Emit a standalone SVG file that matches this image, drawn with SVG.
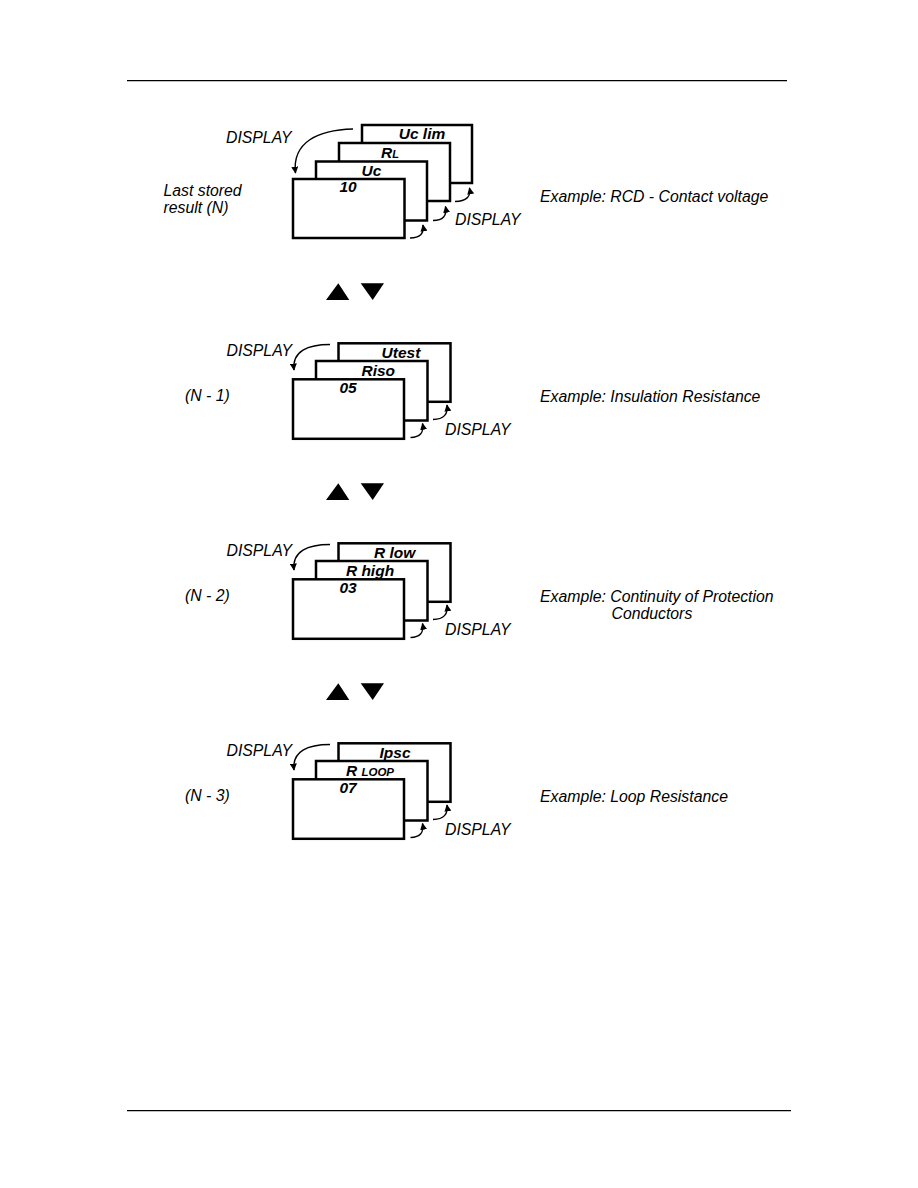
<svg xmlns="http://www.w3.org/2000/svg" width="918" height="1188" viewBox="0 0 918 1188">
<defs>
<style>
.t{font-family:"Liberation Sans",Arial,sans-serif;font-style:italic;font-size:15.8px;fill:#000}
.b{font-family:"Liberation Sans",Arial,sans-serif;font-style:italic;font-weight:bold;font-size:15.5px;fill:#000;text-anchor:middle}
.box{fill:#fff;stroke:#000;stroke-width:2.5}
.c{fill:none;stroke:#000;stroke-width:1.4}
.rule{stroke:#000;stroke-width:1.2}
</style>
<marker id="ah" viewBox="0 0 10 10" refX="9" refY="5" markerWidth="7" markerHeight="7" markerUnits="userSpaceOnUse" orient="auto">
<path d="M0,0 L10,5 L0,10 z" fill="#000"/>
</marker>
</defs>
<rect width="918" height="1188" fill="#fff"/>
<line class="rule" x1="127" y1="80.7" x2="787" y2="80.7"/>
<line class="rule" x1="127" y1="1110.7" x2="791" y2="1110.7"/>

<!-- Section 1 -->
<g id="s1-uclim"><rect class="box" x="362" y="125" width="110" height="58"/><text class="b" x="422" y="138.5">Uc lim</text></g>
<g id="s1-rl"><rect class="box" x="339" y="143" width="111" height="58"/><text class="b" x="390" y="157.5">R<tspan font-size="11">L</tspan></text></g>
<g id="s1-uc"><rect class="box" x="316" y="161.5" width="111" height="59"/><text class="b" x="371.5" y="175.5">Uc</text></g>
<g id="s1-front"><rect class="box" x="293" y="179" width="111.5" height="59"/><text class="b" x="348" y="192">10</text></g>
<g id="s1-labels">
<text class="t" x="226" y="143">DISPLAY</text>
<text class="t" x="163.5" y="195.5">Last stored</text>
<text class="t" x="163.5" y="212.5">result (N)</text>
<text class="t" x="455" y="225">DISPLAY</text>
<text class="t" x="540" y="201.5">Example: RCD - Contact voltage</text>
</g>

<!-- Section 2 -->
<g id="s2-utest"><rect class="box" x="338.5" y="343.3" width="112" height="58.5"/><text class="b" x="401" y="357.7">Utest</text></g>
<g id="s2-riso"><rect class="box" x="316" y="361" width="111.5" height="59.5"/><text class="b" x="378.3" y="375.7">Riso</text></g>
<g id="s2-front"><rect class="box" x="293" y="379.3" width="111" height="59.5"/><text class="b" x="348" y="393.3">05</text></g>
<g id="s2-labels">
<text class="t" x="226.5" y="356">DISPLAY</text>
<text class="t" x="185" y="401">(N - 1)</text>
<text class="t" x="445" y="435">DISPLAY</text>
<text class="t" x="540" y="401.5">Example: Insulation Resistance</text>
</g>

<!-- Section 3 -->
<g id="s3-rlow"><rect class="box" x="338.5" y="543.3" width="112" height="58.5"/><text class="b" x="394.7" y="557.7">R low</text></g>
<g id="s3-rhigh"><rect class="box" x="316" y="561" width="111.5" height="59.5"/><text class="b" x="370" y="575.7">R high</text></g>
<g id="s3-front"><rect class="box" x="293" y="579.3" width="111" height="59.5"/><text class="b" x="348" y="593.3">03</text></g>
<g id="s3-labels">
<text class="t" x="226.5" y="556">DISPLAY</text>
<text class="t" x="185" y="601">(N - 2)</text>
<text class="t" x="445" y="635">DISPLAY</text>
<text class="t" x="540" y="601.5">Example: Continuity of Protection</text>
<text class="t" x="611.5" y="618.5">Conductors</text>
</g>

<!-- Section 4 -->
<g id="s4-ipsc"><rect class="box" x="338.5" y="743.3" width="112" height="58.5"/><text class="b" x="395" y="757.7">Ipsc</text></g>
<g id="s4-rloop"><rect class="box" x="316" y="761" width="111.5" height="59.5"/><text class="b" x="370" y="775.7">R <tspan font-size="11.5">LOOP</tspan></text></g>
<g id="s4-front"><rect class="box" x="293" y="779.3" width="111" height="59.5"/><text class="b" x="348" y="793.3">07</text></g>
<g id="s4-labels">
<text class="t" x="226.5" y="756">DISPLAY</text>
<text class="t" x="185" y="801">(N - 3)</text>
<text class="t" x="445" y="835">DISPLAY</text>
<text class="t" x="540" y="801.5">Example: Loop Resistance</text>
</g>

<!-- Up/down key symbols -->
<g id="keys">
<path d="M326,300 L338.3,283.3 L349.3,300 z M360.7,283.3 L384,283.3 L372.7,300 z"/>
<path d="M326,500 L338.3,483.3 L349.3,500 z M360.7,483.3 L384,483.3 L372.7,500 z"/>
<path d="M326,700 L338.3,683.3 L349.3,700 z M360.7,683.3 L384,683.3 L372.7,700 z"/>
</g>

<!-- Connectors -->
<g id="connectors">
<path class="c" marker-end="url(#ah)" d="M353,129 C318,130 292,142 295.5,173"/>
<path class="c" marker-end="url(#ah)" d="M410,238 Q425,238 423,225"/>
<path class="c" marker-end="url(#ah)" d="M433,220.5 Q448,220.5 445.5,206.5"/>
<path class="c" marker-end="url(#ah)" d="M455,201.5 Q472,201 469.5,188"/>

<path class="c" marker-end="url(#ah)" d="M330,344.5 C308,344.5 292,351 294,370"/>
<path class="c" marker-end="url(#ah)" d="M410.5,437.5 Q425,437 422.5,423.5"/>
<path class="c" marker-end="url(#ah)" d="M433,419.5 Q449,419 447,405"/>

<path class="c" marker-end="url(#ah)" d="M330,544.5 C308,544.5 292,551 294,570"/>
<path class="c" marker-end="url(#ah)" d="M410.5,637.5 Q425,637 422.5,623.5"/>
<path class="c" marker-end="url(#ah)" d="M433,619.5 Q449,619 447,605"/>

<path class="c" marker-end="url(#ah)" d="M330,744.5 C308,744.5 292,751 294,770"/>
<path class="c" marker-end="url(#ah)" d="M410.5,837.5 Q425,837 422.5,823.5"/>
<path class="c" marker-end="url(#ah)" d="M433,819.5 Q449,819 447,805"/>
</g>
</svg>
